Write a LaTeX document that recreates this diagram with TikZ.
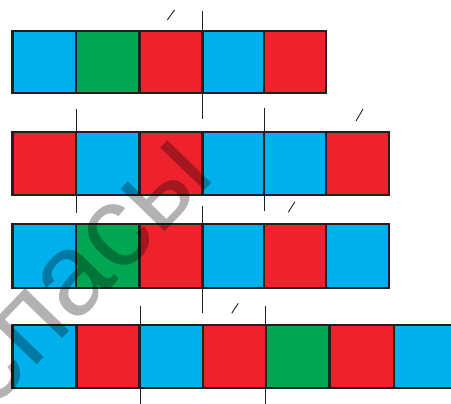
\documentclass[tikz,border=0pt]{standalone}
\usepackage{fontspec}
\newfontfamily\wmfont{Liberation Sans}
\definecolor{cblue}{HTML}{00B0EC}
\definecolor{cgreen}{HTML}{00A651}
\definecolor{cred}{HTML}{ED222C}
\definecolor{cborder}{HTML}{231F20}
\tikzset{
  cell/.style={draw=cborder, line width=2.6pt},
  tick/.style={draw=cborder, line width=0.9pt},
  slash/.style={draw=cborder, line width=0.9pt},
  wm/.style={text=black, text opacity=0.3, rotate=46, inner sep=0pt, font=\wmfont\fontsize{116}{116}\selectfont}
}
\begin{document}
\begin{tikzpicture}[x=1pt,y=-1pt]
\useasboundingbox (0,0) rectangle (451,404);
\clip (0,0) rectangle (451,404);
\fill[white] (0,0) rectangle (451,404);
% Row 1
\foreach \a/\b/\c in {12.7/76/cblue, 76/139.3/cgreen, 139.3/202.3/cred, 202.3/264/cblue, 264/326/cred}
  \filldraw[cell, fill=\c] (\a,31) rectangle (\b,93);
% Row 2
\foreach \a/\b/\c in {12.7/76/cred, 76/139.3/cblue, 139.3/202.3/cred, 202.3/264/cblue, 264/326/cblue, 326/389/cred}
  \filldraw[cell, fill=\c] (\a,132) rectangle (\b,195);
% Row 3
\foreach \a/\b/\c in {12.7/76/cblue, 76/139.3/cgreen, 139.3/202.3/cred, 202.3/264/cblue, 264/326/cred, 326/389/cblue}
  \filldraw[cell, fill=\c] (\a,224) rectangle (\b,288);
% Row 4
\foreach \a/\b/\c in {12.7/76.5/cblue, 76.5/139.7/cred, 139.7/203/cblue, 203/265.8/cred, 265.8/329.3/cgreen, 329.3/394/cred, 394/458/cblue}
  \filldraw[cell, fill=\c] (\a,325) rectangle (\b,388);
% tick lines and slashes
\coordinate (t1a) at (202.3,11); \coordinate (t1b) at (202.3,119);
\draw[tick] (t1a) -- (t1b);
\coordinate (s1a) at (167.3,20); \coordinate (s1b) at (174.5,10);
\draw[slash] (s1a) -- (s1b);
\coordinate (t2a) at (76,109); \coordinate (t2b) at (76,213);
\coordinate (t2c) at (264,108); \coordinate (t2d) at (264,211);
\draw[tick] (t2a) -- (t2b);
\draw[tick] (t2c) -- (t2d);
\coordinate (s2a) at (356,121); \coordinate (s2b) at (363,109);
\draw[slash] (s2a) -- (s2b);
\coordinate (t3a) at (202.3,206); \coordinate (t3b) at (202.3,313);
\draw[tick] (t3a) -- (t3b);
\coordinate (s3a) at (288.3,212.3); \coordinate (s3b) at (295,201.7);
\draw[slash] (s3a) -- (s3b);
\coordinate (t4a) at (140,306); \coordinate (t4b) at (140,410);
\coordinate (t4c) at (265.8,306); \coordinate (t4d) at (265.8,410);
\draw[tick] (t4a) -- (t4b);
\draw[tick] (t4c) -- (t4d);
\coordinate (s4a) at (231.7,313.3); \coordinate (s4b) at (238.3,303.3);
\draw[slash] (s4a) -- (s4b);
% watermark
\node[wm, anchor=base east] (wmark) at (218,177) {спасы};
\end{tikzpicture}
\end{document}
